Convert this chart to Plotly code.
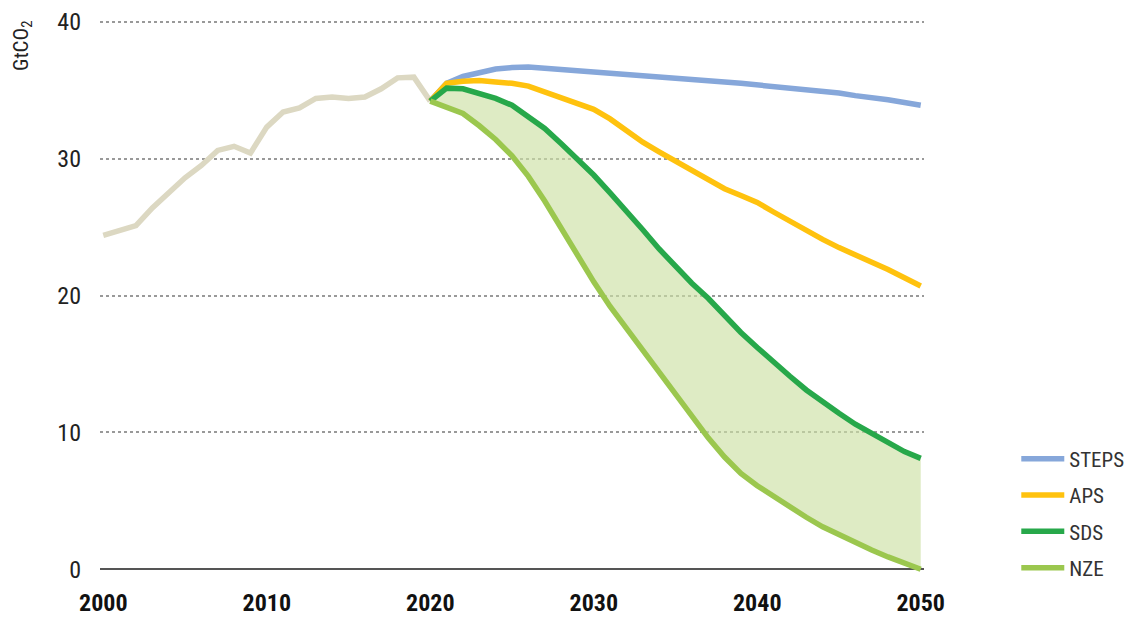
import plotly.graph_objects as go

# historical emissions (GtCO2)
hist_years = list(range(2000, 2021))
hist_vals = [24.4, 24.75, 25.1, 26.4, 27.5, 28.6, 29.5, 30.6, 30.9, 30.4, 32.3,
             33.4, 33.7, 34.4, 34.5, 34.4, 34.5, 35.1, 35.9, 35.95, 34.2]

# scenarios 2020-2050
scen_years = list(range(2020, 2051))
steps = [34.2, 35.5, 36.0, 36.3, 36.55, 36.65, 36.7, 36.6, 36.5, 36.4, 36.3,
         36.2, 36.1, 36.05, 35.95, 35.9, 35.8, 35.7, 35.6, 35.5, 35.4,
         35.3, 35.2, 35.05, 34.95, 34.8, 34.6, 34.5, 34.3, 34.1, 33.9]
aps = [34.2, 35.5, 35.65, 35.7, 35.6, 35.5, 35.3, 34.9, 34.5, 34.1, 33.6,
       32.9, 32.0, 31.2, 30.5, 29.8, 29.1, 28.4, 27.8, 27.3, 26.8,
       26.1, 25.4, 24.7, 24.1, 23.5, 23.0, 22.5, 21.9, 21.3, 20.7]
sds = [34.2, 35.15, 35.1, 34.8, 34.4, 33.9, 33.1, 32.2, 31.1, 30.0, 28.8,
       27.5, 26.2, 24.8, 23.4, 22.1, 20.9, 19.8, 18.5, 17.3, 16.2,
       15.1, 14.1, 13.1, 12.2, 11.4, 10.6, 9.9, 9.2, 8.6, 8.1]
nze = [34.2, 33.75, 33.3, 32.4, 31.4, 30.2, 28.7, 26.9, 24.9, 23.0, 21.0,
       19.2, 17.6, 15.9, 14.3, 12.7, 11.1, 9.6, 8.2, 7.0, 6.1,
       5.3, 4.5, 3.8, 3.1, 2.5, 1.9, 1.4, 0.9, 0.4, 0.0]

FONT = "Roboto Condensed, Liberation Sans Narrow, DejaVu Sans Condensed, Roboto, sans-serif"

fig = go.Figure()

# shaded band between SDS and NZE
fig.add_trace(go.Scatter(x=scen_years, y=nze, mode="lines", line=dict(width=0),
                         showlegend=False, hoverinfo="skip"))
fig.add_trace(go.Scatter(x=scen_years, y=sds, mode="lines", line=dict(width=0),
                         fill="tonexty", fillcolor="rgba(205,225,165,0.65)",
                         showlegend=False, hoverinfo="skip"))

fig.add_trace(go.Scatter(x=hist_years, y=hist_vals, mode="lines", name="Historical",
                         line=dict(color="#dcd8c2", width=5.5), showlegend=False))

series = [("STEPS", steps, "#86a7da"), ("APS", aps, "#ffc20e"),
          ("SDS", sds, "#27a84a"), ("NZE", nze, "#9bc74e")]
for name, vals, col in series:
    fig.add_trace(go.Scatter(x=scen_years, y=vals, mode="lines", name=name, legendgroup=name,
                             line=dict(color=col, width=5.5)))

fig.update_layout(
    width=1136, height=617,
    paper_bgcolor="white", plot_bgcolor="white",
    font=dict(family=FONT, size=21, color="#222"),
    margin=dict(l=92, r=220, t=11, b=53, autoexpand=False),
    showlegend=True,
    legend=dict(x=1.112, xanchor="left", y=-0.03, yanchor="bottom",
                font=dict(size=21, color="#333"), tracegroupgap=6,
                itemwidth=43, bgcolor="rgba(0,0,0,0)"),
    annotations=[dict(text="GtCO<sub>2</sub>", textangle=-90, x=0, xref="paper",
                      xshift=-78, y=1, yref="paper", yanchor="top", xanchor="center",
                      showarrow=False, font=dict(size=21, color="#222"))],
)
fig.update_xaxes(range=[1999.8, 2050.2], tickvals=[2000, 2010, 2020, 2030, 2040, 2050],
                 showgrid=False, zeroline=False, showline=False, ticks="", automargin=False,
                 tickfont=dict(family=FONT, size=24, color="#111", weight="bold"),
                 ticklabelstandoff=14)
fig.update_yaxes(range=[-0.2, 40.2], tickvals=[0, 10, 20, 30, 40],
                 showgrid=True, gridcolor="#999", griddash="dot", gridwidth=2,
                 zeroline=True, zerolinecolor="#555", zerolinewidth=1.5,
                 showline=False, ticks="", ticklabelstandoff=18, automargin=False,
                 tickfont=dict(family=FONT, size=24, color="#222"))

fig.write_html("out.html")
